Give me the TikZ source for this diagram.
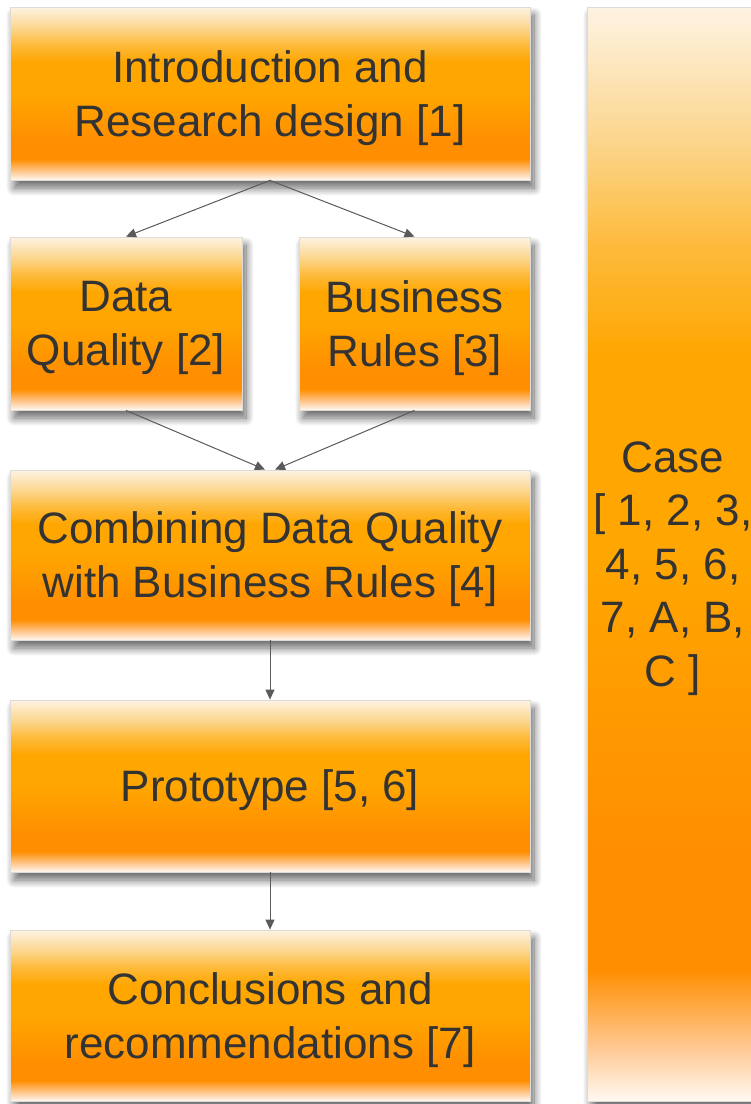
\documentclass[tikz,border=0pt]{standalone}
\usepackage{fontspec}
\setmainfont{Liberation Sans}
\usetikzlibrary{arrows.meta,calc,shadows.blur}

% palette of the stage boxes
\definecolor{shTop}{HTML}{FDF3E3}
\definecolor{shLight}{HTML}{FCD68E}
\definecolor{shYellow}{HTML}{FDBA3A}
\definecolor{shMid}{HTML}{FFA600}
\definecolor{shDeep}{HTML}{FF8E00}
\definecolor{shFade}{HTML}{FFC890}
\definecolor{shBottom}{HTML}{FFF8F2}
\definecolor{edgegray}{HTML}{DEDAD6}
\definecolor{txtgray}{HTML}{333333}
\definecolor{arrowgray}{HTML}{5A5A5A}

% glossy orange fill: the box spans 25bp (bottom) .. 75bp (top)
\pgfdeclareverticalshading{stageshade}{100bp}{%
  color(0bp)=(shBottom); color(25bp)=(shBottom); color(27.5bp)=(shFade);
  color(31bp)=(shDeep); color(36bp)=(shDeep); color(50bp)=(shMid);
  color(59bp)=(shMid); color(64bp)=(shYellow); color(69bp)=(shLight);
  color(75bp)=(shTop); color(100bp)=(shTop)}

\begin{document}
\begin{tikzpicture}[x=1pt,y=-1pt,
  stagebox/.style={draw=edgegray, line width=0.8pt, shade, shading=stageshade,
    text=txtgray, align=center, inner sep=0pt, text depth=0pt,
    font=\fontsize{44}{54}\selectfont,
    blur shadow={shadow xshift=4pt, shadow yshift=-8pt,
      shadow blur radius=8pt, shadow opacity=60, shadow blur steps=14}},
  caselabel/.style={text=txtgray, align=center, inner sep=0pt, text depth=0pt,
    font=\fontsize{44}{53.5}\selectfont},
  flow/.style={draw=arrowgray, line width=1pt,
    -{Triangle[length=10pt,width=9pt]}}]
\useasboundingbox (0,0) rectangle (751,1104);
\clip (0,0) rectangle (751,1104);

% chapters of the study
\node[stagebox, minimum width=520pt, minimum height=173pt] (intro) at (270,93.5)
  {Introduction and\\Research design [1]};
\node[stagebox, minimum width=232pt, minimum height=173pt] (dq) at (126,323.5)
  {Data\\Quality [2]};
\node[stagebox, minimum width=231pt, minimum height=173pt] (br) at (414.5,323.5)
  {Business\\Rules [3]};
\node[stagebox, minimum width=520pt, minimum height=170pt] (comb) at (270,555)
  {Combining Data Quality\\with Business Rules [4]};
\node[stagebox, minimum width=520pt, minimum height=172pt] (proto) at (270,786)
  {Prototype [5, 6]};
\node[stagebox, minimum width=520pt, minimum height=171pt] (concl) at (270,1015.5)
  {Conclusions and\\recommendations [7]};

% case column running alongside all chapters
\node[stagebox, minimum width=172pt, minimum height=1094pt] (case) at (673,554) {};
\node[caselabel] (casetext) at ($(case.center)+(0,10)$)
  {Case\\{[} 1, 2, 3,\\4, 5, 6,\\7, A, B,\\C ]};

% reading order
\draw[flow] (intro.south) -- (dq.north);
\draw[flow] (intro.south) -- (br.north);
\draw[flow] (dq.south) -- ($(comb.north)+(-5,0)$);
\draw[flow] (br.south) -- ($(comb.north)+(5,0)$);
\draw[flow] (comb.south) -- (proto.north);
\draw[flow] (proto.south) -- (concl.north);
\end{tikzpicture}
\end{document}
